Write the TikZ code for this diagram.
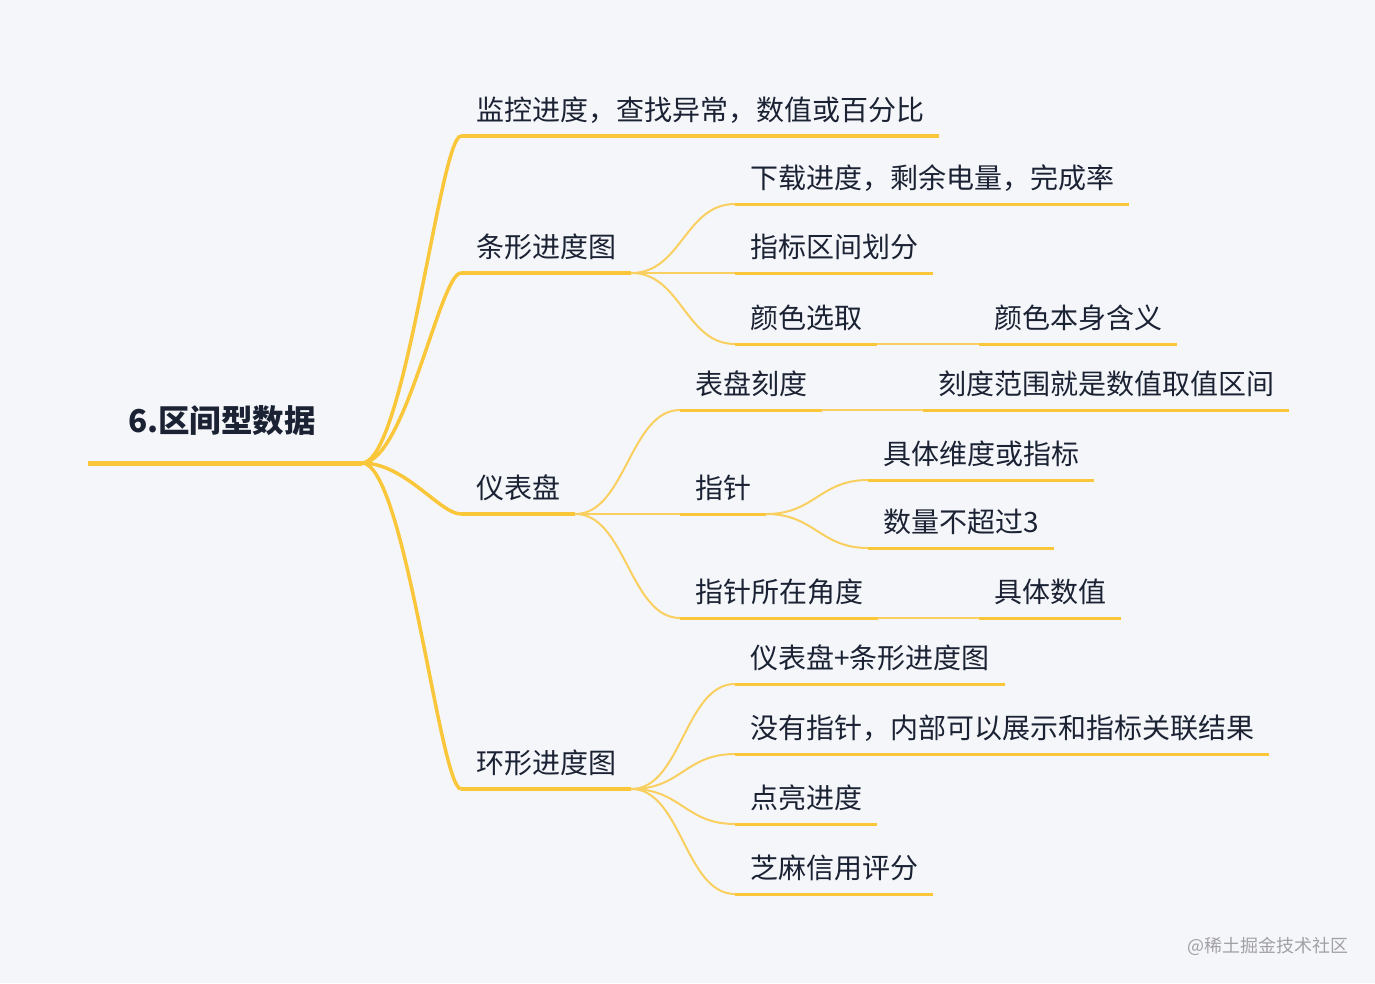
\documentclass[tikz,border=0pt]{standalone}
\usepackage{fontspec}
\setmainfont{Noto Sans CJK SC}
\definecolor{bgc}{RGB}{245,246,250}
\definecolor{yel}{RGB}{250,198,58}
\definecolor{txc}{RGB}{26,34,51}
\definecolor{wmc}{RGB}{160,160,165}
\tikzset{
 tx/.style={inner sep=0pt, anchor=base west, text=txc, font=\fontsize{28}{30}\selectfont},
 rootx/.style={inner sep=0pt, anchor=base west, text=txc, font=\fontsize{31.5}{34}\selectfont\bfseries},
 rootline/.style={draw=yel, line width=5pt},
 conn1/.style={draw=yel, line width=3.5pt},
 ul1/.style={draw=yel, line width=4pt},
 conn2/.style={draw=yel!80!bgc, line width=2pt},
 ul2/.style={draw=yel, line width=3pt},
}
\newcommand\mmtopic[5]{%
 \node[#1] (#2) at (#3,#4-15.6) {#5};
 \coordinate (#2-l) at (#3-15,#4);
 \path (#2.base east) ++(15,15.6) coordinate (#2-r);
}
\begin{document}
\begin{tikzpicture}[x=1pt,y=-1pt]
\fill[bgc] (0,0) rectangle (1375,983);
\useasboundingbox (0,0) rectangle (1375,983);
% root
\node[rootx] (root) at (128,432) {6.区间型数据};
\coordinate (root-l) at (88,463);
\coordinate (root-r) at (362,463);
% level 1
\mmtopic{tx}{a}{476}{136}{监控进度，查找异常，数值或百分比}
\mmtopic{tx}{b}{476}{273}{条形进度图}
\mmtopic{tx}{c}{476}{514}{仪表盘}
\mmtopic{tx}{d}{476}{789}{环形进度图}
% level 2
\mmtopic{tx}{b1}{750}{204}{下载进度，剩余电量，完成率}
\mmtopic{tx}{b2}{750}{273}{指标区间划分}
\mmtopic{tx}{b3}{750}{344}{颜色选取}
\mmtopic{tx}{b31}{994}{344}{颜色本身含义}
\mmtopic{tx}{c1}{695}{410}{表盘刻度}
\mmtopic{tx}{c11}{938}{410}{刻度范围就是数值取值区间}
\mmtopic{tx}{c2}{695}{514}{指针}
\mmtopic{tx}{c21}{883}{480}{具体维度或指标}
\mmtopic{tx}{c22}{883}{548}{数量不超过3}
\mmtopic{tx}{c3}{695}{618}{指针所在角度}
\mmtopic{tx}{c31}{994}{618}{具体数值}
\mmtopic{tx}{d1}{750}{684}{仪表盘+条形进度图}
\mmtopic{tx}{d2}{750}{754}{没有指针，内部可以展示和指标关联结果}
\mmtopic{tx}{d3}{750}{824}{点亮进度}
\mmtopic{tx}{d4}{750}{894}{芝麻信用评分}
% connectors level 1
\foreach \n in {a,b,c,d}
  \draw[conn1] (root-r) .. controls +(43,0) and +(-21,0) .. (\n-l);
% connectors level 2
\foreach \n in {b1,b2,b3}
  \draw[conn2] (b-r) .. controls +(50,0) and +(-50,0) .. (\n-l);
\foreach \n in {c1,c2,c3}
  \draw[conn2] (c-r) .. controls +(50,0) and +(-50,0) .. (\n-l);
\foreach \n in {d1,d2,d3,d4}
  \draw[conn2] (d-r) .. controls +(50,0) and +(-50,0) .. (\n-l);
\foreach \n in {c21,c22}
  \draw[conn2] (c2-r) .. controls +(48,0) and +(-48,0) .. (\n-l);
\draw[conn2] (b3-r) -- (b31-l);
\draw[conn2] (c1-r) -- (c11-l);
\draw[conn2] (c3-r) -- (c31-l);
% underlines
\draw[rootline] (root-l) -- (root-r);
\foreach \n in {a,b,c,d}
  \draw[ul1] (\n-l) -- (\n-r);
\foreach \n in {b1,b2,b3,b31,c1,c11,c2,c21,c22,c3,c31,d1,d2,d3,d4}
  \draw[ul2] (\n-l) -- (\n-r);
% watermark
\node[inner sep=0pt, anchor=east, text=wmc, font=\fontsize{18}{20}\selectfont] (wm) at (1349,946) {@稀土掘金技术社区};
\end{tikzpicture}
\end{document}
